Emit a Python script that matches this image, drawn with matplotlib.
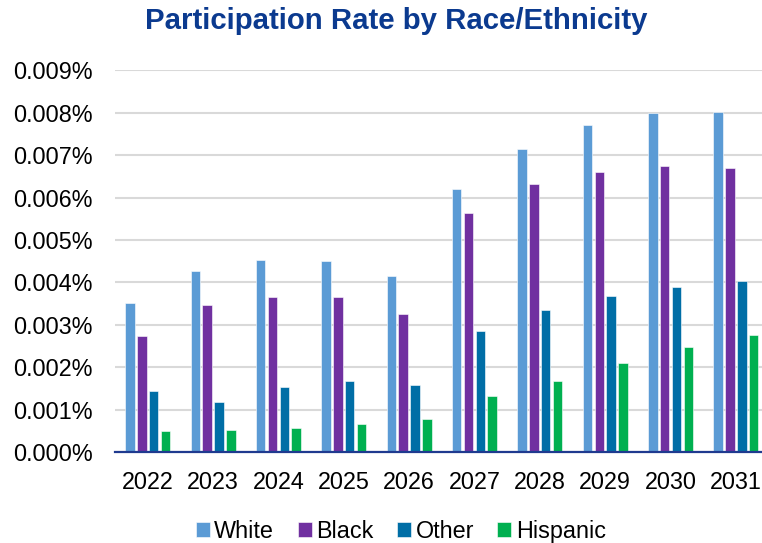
# import libraries
import matplotlib.pyplot as plt
import numpy as np

plt.rcParams['font.family'] = ['Liberation Sans', 'DejaVu Sans']

# participation rate (in percent) by year and group
years = ['2022', '2023', '2024', '2025', '2026', '2027', '2028', '2029', '2030', '2031']
white = [0.00351, 0.00426, 0.00453, 0.00450, 0.00414, 0.00620, 0.00715, 0.00770, 0.00800, 0.00803]
black = [0.00274, 0.00347, 0.00366, 0.00365, 0.00325, 0.00564, 0.00631, 0.00660, 0.00675, 0.00670]
other = [0.00145, 0.00117, 0.00153, 0.00167, 0.00157, 0.00285, 0.00336, 0.00367, 0.00390, 0.00404]
hispanic = [0.00050, 0.00053, 0.00057, 0.00066, 0.00077, 0.00131, 0.00167, 0.00211, 0.00248, 0.00275]

series = [('White', white, '#5B9BD5'),
          ('Black', black, '#7030A0'),
          ('Other', other, '#006EA6'),
          ('Hispanic', hispanic, '#00B050')]

fig = plt.figure(figsize=(7.62, 5.43), dpi=100)
ax = fig.add_axes([0.151, 0.1676, 0.849, 0.7028])

x = np.arange(len(years))
step = 0.181
width = 0.145
for i, (name, vals, color) in enumerate(series):
    ax.bar(x + (i - 1.5) * step, vals, width, color=color, label=name,
           edgecolor='white', linewidth=0.4, zorder=3)

# axis formatting
ax.set_ylim(0, 0.009)
ax.set_xlim(-0.5, 9.40)
ax.set_yticks(np.arange(0, 0.0091, 0.001))
ax.set_yticklabels([f'{v:.3f}%' for v in np.arange(0, 0.0091, 0.001)])
ax.set_xticks(x)
ax.set_xticklabels(years)
ax.tick_params(axis='y', length=0, pad=16, labelsize=16.8)
ax.tick_params(axis='x', length=0, pad=14, labelsize=16.8)
ax.grid(axis='y', color='#D9D9D9', linewidth=1.5, zorder=0)
for side in ['top', 'right', 'left']:
    ax.spines[side].set_visible(False)
ax.spines['bottom'].set_color('#1F3A8F')
ax.spines['bottom'].set_linewidth(1.6)
ax.spines['bottom'].set_zorder(4)

fig.text(0.52, 0.961, 'Participation Rate by Race/Ethnicity', ha='center', va='center',
         fontsize=21.2, fontweight='bold', color='#0B3A8F')

fig.legend(loc='center', bbox_to_anchor=(0.526, 0.022), ncol=4, frameon=False,
           fontsize=16.8, handlelength=0.6, handleheight=0.6, handletextpad=0.2,
           columnspacing=1.0)

plt.savefig('out.png', dpi=100)
